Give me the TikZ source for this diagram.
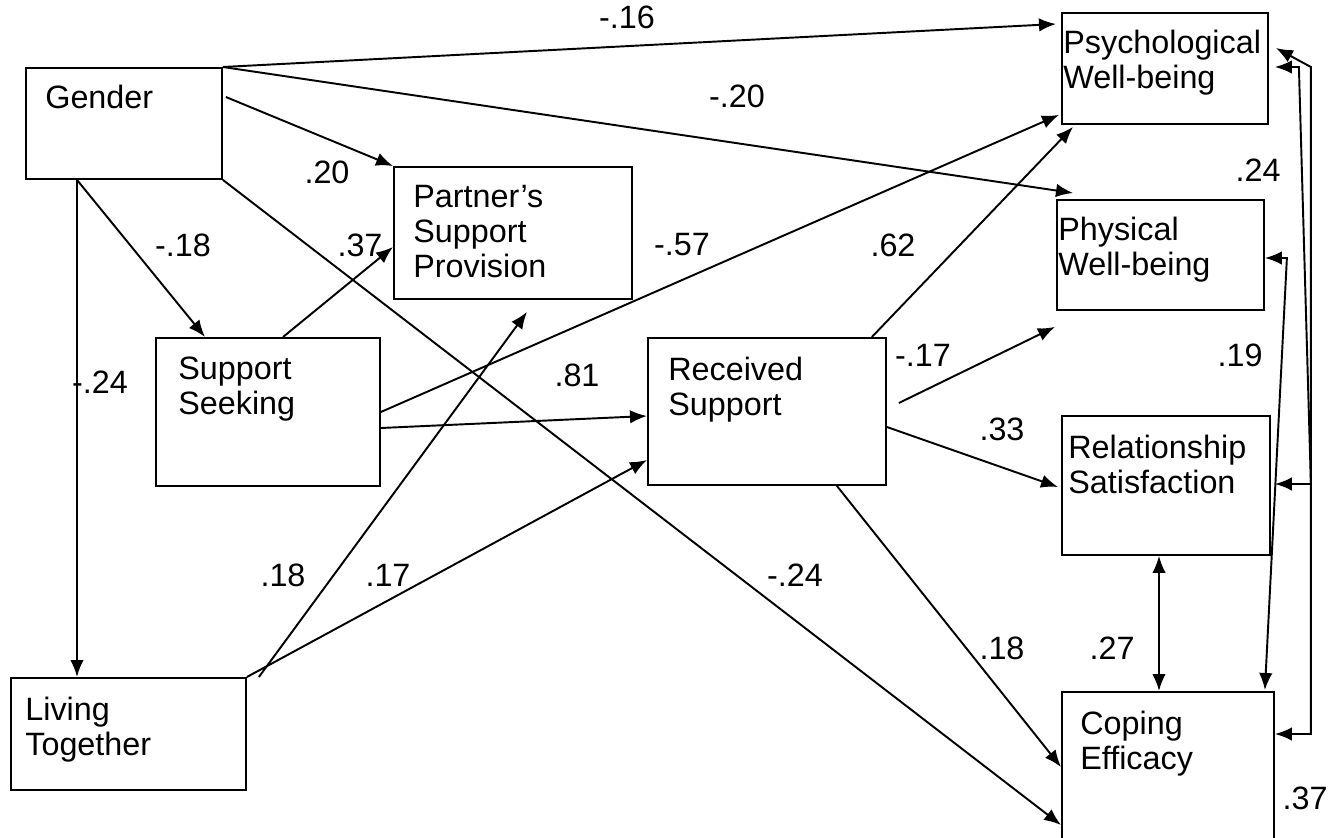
\documentclass[tikz,border=0pt]{standalone}
\usepackage{fontspec}
\setmainfont{Liberation Sans}
\usetikzlibrary{arrows.meta}
\begin{document}
\begin{tikzpicture}[x=0.02cm, y=-0.02cm,
    box/.style={draw, line width=1.1pt, anchor=north west, inner sep=0pt},
    txt/.style={anchor=north west, align=left, inner sep=0pt, font=\fontsize{18.4}{19.8}\selectfont},
    coef/.style={inner sep=0pt, font=\fontsize{18.4}{19.8}\selectfont},
    arr/.style={line width=1.1pt, -{Latex[length=0.34cm, width=0.27cm]}},
    corr/.style={line width=1.1pt, {Latex[length=0.34cm, width=0.27cm]}-{Latex[length=0.34cm, width=0.27cm]}}]
    \useasboundingbox (0,0) rectangle (1343,838);
    \node[box, minimum width=3.92cm, minimum height=2.22cm] (gender) at (25,67) {};
    \node[box, minimum width=4.76cm, minimum height=2.64cm] (partner) at (393,166) {};
    \node[box, minimum width=4.48cm, minimum height=2.96cm] (seeking) at (155,337) {};
    \node[box, minimum width=4.76cm, minimum height=2.94cm] (received) at (647,337) {};
    \node[box, minimum width=4.70cm, minimum height=2.24cm] (living) at (10,677) {};
    \node[box, minimum width=4.12cm, minimum height=2.22cm] (psych) at (1061,12) {};
    \node[box, minimum width=4.14cm, minimum height=2.20cm] (physical) at (1056,199) {};
    \node[box, minimum width=4.16cm, minimum height=2.78cm] (relation) at (1061,415) {};
    \node[box, minimum width=4.24cm, minimum height=3.30cm] (coping) at (1061,691) {};
    \node[txt] at ([shift={(20,18)}]gender.north west) {Gender};
    \node[txt] at ([shift={(20,19)}]partner.north west) {Partner’s\\Support\\Provision};
    \node[txt] at ([shift={(23,20)}]seeking.north west) {Support\\Seeking};
    \node[txt] at ([shift={(21,20)}]received.north west) {Received\\Support};
    \node[txt] at ([shift={(15,20)}]living.north west) {Living\\Together};
    \node[txt] at ([shift={(2,18)}]psych.north west) {Psychological\\Well-being};
    \node[txt] at ([shift={(2,18)}]physical.north west) {Physical\\Well-being};
    \node[txt] at ([shift={(7,20)}]relation.north west) {Relationship\\Satisfaction};
    \node[txt] at ([shift={(19,20)}]coping.north west) {Coping\\Efficacy};
    \draw[arr] (gender.north east) -- ([shift={(-5,12)}]psych.north west);
    \draw[arr] (gender.north east) -- ([shift={(17,-6)}]physical.north west);
    \draw[arr] ([shift={(3,30)}]gender.north east) -- (partner.north west);
    \draw[arr] ([shift={(52,0)}]gender.south west) -- ([shift={(50,0)}]seeking.north west);
    \draw[arr] ([shift={(52,0)}]gender.south west) -- ([shift={(67,0)}]living.north west);
    \draw[arr] (gender.south east) -- ([shift={(0,134)}]coping.north west);
    \draw[arr] ([shift={(128,0)}]seeking.north west) -- ([shift={(0,81)}]partner.north west);
    \draw[arr] ([shift={(0,75)}]seeking.north east) -- ([shift={(-2,-10)}]psych.south west);
    \draw[arr] ([shift={(0,91)}]seeking.north east) -- ([shift={(0,79)}]received.north west);
    \draw[arr] ([shift={(12,0)}]living.north east) -- ([shift={(134,12)}]partner.south west);
    \draw[arr] (living.north east) -- ([shift={(0,123)}]received.north west);
    \draw[arr] ([shift={(-15,0)}]received.north east) -- ([shift={(12,2)}]psych.south west);
    \draw[arr] ([shift={(12,66)}]received.north east) -- ([shift={(-1,16)}]physical.south west);
    \draw[arr] ([shift={(0,90)}]received.north east) -- ([shift={(-3,72)}]relation.north west);
    \draw[arr] ([shift={(-50,0)}]received.south east) -- ([shift={(0,76)}]coping.north west);
    \draw[corr] ([shift={(98,0)}]relation.south west) -- ([shift={(98,0)}]coping.north west);
    \draw[corr] ([shift={(7,36)}]psych.north east) -- ([shift={(42,55)}]psych.north east) -- ([shift={(36,43)}]coping.north east) -- ([shift={(0,43)}]coping.north east);
    \draw[corr] ([shift={(6,55)}]psych.north east) -- ([shift={(30,55)}]psych.north east) -- ([shift={(40,69)}]relation.north east) -- ([shift={(4,69)}]relation.north east);
    \draw[corr] ([shift={(0,59)}]physical.north east) -- ([shift={(22,59)}]physical.north east) -- ([shift={(-10,-1)}]coping.north east);
    \node[coef] (c1) at (627,17) {-.16};
    \node[coef] (c2) at (737,96) {-.20};
    \node[coef] (c3) at (327,172) {.20};
    \node[coef] (c4) at (183,245) {-.18};
    \node[coef] (c5) at (360,245) {.37};
    \node[coef] (c6) at (682,245) {-.57};
    \node[coef] (c7) at (893,245) {.62};
    \node[coef] (c8) at (1258,170) {.24};
    \node[coef] (c9) at (100,382) {-.24};
    \node[coef] (c10) at (577,375) {.81};
    \node[coef] (c11) at (923,355) {-.17};
    \node[coef] (c12) at (1240,355) {.19};
    \node[coef] (c13) at (1002,429) {.33};
    \node[coef] (c14) at (283,575) {.18};
    \node[coef] (c15) at (388,575) {.17};
    \node[coef] (c16) at (795,575) {-.24};
    \node[coef] (c17) at (1002,648) {.18};
    \node[coef] (c18) at (1112,648) {.27};
    \node[coef] (c19) at (1305,798) {.37};
\end{tikzpicture}
\end{document}
